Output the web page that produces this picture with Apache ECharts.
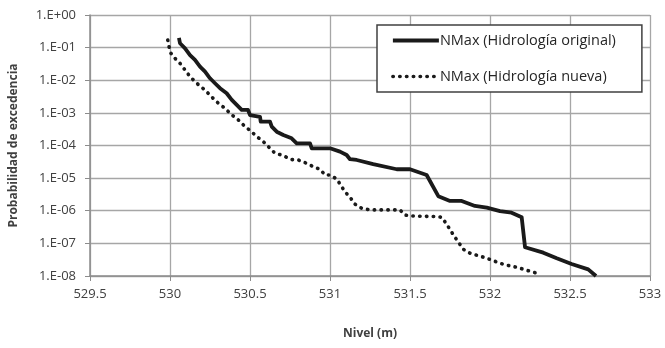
<!DOCTYPE html>
<html>
<head>
<meta charset="utf-8">
<script src="https://cdn.jsdelivr.net/npm/echarts@6/dist/echarts.min.js"></script>
<style>
  html, body { margin: 0; padding: 0; background: #fff; }
  #chart { width: 665px; height: 348px; }
</style>
</head>
<body>
<div id="chart"></div>
<script>
// Nivel (m) vs probabilidad de excedencia
const originalX = [530.056, 530.0625, 530.094, 530.125, 530.156, 530.1875, 530.219, 530.25, 530.281, 530.3125,
  530.354, 530.386, 530.417, 530.448, 530.4875, 530.5, 530.5625, 530.567, 530.625, 530.636,
  530.667, 530.708, 530.76, 530.792, 530.875, 530.886, 531.0, 531.0625, 531.104, 531.125,
  531.167, 531.27, 531.417, 531.5, 531.604, 531.677, 531.75, 531.823, 531.906, 531.98,
  532.0625, 532.135, 532.198, 532.219, 532.333, 532.417, 532.51, 532.614, 532.6625];
const originalP = [2.0e-1, 1.36e-1, 9.5e-2, 5.9e-2, 4.2e-2, 2.6e-2, 1.83e-2, 1.15e-2, 8.1e-3, 5.7e-3,
  4.0e-3, 2.5e-3, 1.75e-3, 1.23e-3, 1.23e-3, 8.6e-4, 7.6e-4, 5.4e-4, 5.4e-4, 3.8e-4,
  2.65e-4, 2.1e-4, 1.66e-4, 1.17e-4, 1.17e-4, 8.2e-5, 8.2e-5, 6.5e-5, 5.1e-5, 3.8e-5,
  3.6e-5, 2.7e-5, 1.87e-5, 1.87e-5, 1.25e-5, 2.8e-6, 2.0e-6, 2.0e-6, 1.4e-6, 1.24e-6,
  9.8e-7, 8.7e-7, 6.3e-7, 7.6e-8, 5.2e-8, 3.5e-8, 2.34e-8, 1.6e-8, 1.0e-8];

const nuevaX = [529.986, 529.994, 530.006, 530.031, 530.0625, 530.094, 530.125, 530.167, 530.219, 530.26,
  530.302, 530.344, 530.386, 530.417, 530.469, 530.51, 530.542, 530.573, 530.625, 530.656,
  530.698, 530.76, 530.802, 530.854, 530.896, 530.9375, 530.969, 531.0, 531.042, 531.094,
  531.125, 531.156, 531.198, 531.25, 531.4375, 531.469, 531.51, 531.667, 531.698, 531.729,
  531.754, 531.781, 531.808, 531.833, 531.875, 531.927, 531.969, 532.021, 532.0625, 532.108,
  532.156, 532.204, 532.25, 532.296];
const nuevaP = [1.7e-1, 1.07e-1, 6.7e-2, 4.7e-2, 3.3e-2, 2.06e-2, 1.29e-2, 8.1e-3, 5.0e-3, 3.1e-3,
  1.97e-3, 1.38e-3, 8.6e-4, 6.8e-4, 3.8e-4, 2.65e-4, 1.86e-4, 1.48e-4, 8.2e-5, 5.8e-5,
  5.1e-5, 3.7e-5, 3.6e-5, 2.85e-5, 2.24e-5, 1.87e-5, 1.25e-5, 1.25e-5, 9.4e-6, 3.8e-6,
  2.6e-6, 1.6e-6, 1.19e-6, 1.06e-6, 1.06e-6, 7.4e-7, 6.9e-7, 6.6e-7, 6.3e-7, 3.9e-7,
  2.45e-7, 1.54e-7, 1.0e-7, 6.6e-8, 5.0e-8, 4.2e-8, 3.65e-8, 2.95e-8, 2.45e-8, 2.14e-8,
  1.9e-8, 1.64e-8, 1.4e-8, 1.21e-8];

const seriesNames = ['NMax (Hidrología original)', 'NMax (Hidrología nueva)'];

const font = 'Open Sans';
const textColor = '#404040';
const gridColor = '#a6a6a6';

function pairs(xs, ys) {
  return xs.map((x, i) => [x, ys[i]]);
}

function sciLabel(v) {
  const e = Math.round(Math.log10(v));
  const s = e < 0 ? '-' : '+';
  const a = Math.abs(e);
  return '1.E' + s + (a < 10 ? '0' + a : a);
}

const chart = echarts.init(document.getElementById('chart'));
chart.setOption({
  animation: false,
  backgroundColor: '#fff',
  textStyle: { fontFamily: font },
  grid: { left: 90, right: 15, top: 15, bottom: 72 },
  legend: {
    orient: 'vertical',
    left: 377,
    top: 25,
    padding: [8, 26, 8, 14],
    itemGap: 21,
    itemWidth: 46,
    itemHeight: 12,
    backgroundColor: '#fff',
    borderColor: '#404040',
    borderWidth: 1.5,
    itemStyle: { opacity: 0 },
    lineStyle: { width: 'inherit' },
    textStyle: { fontFamily: font, fontSize: 14.5, color: '#262626', padding: [0, 0, 0, -4] },
    data: seriesNames
  },
  xAxis: {
    type: 'value',
    min: 529.5,
    max: 533,
    interval: 0.5,
    name: 'Nivel (m)',
    nameLocation: 'middle',
    nameGap: 52,
    nameTextStyle: { fontFamily: font, fontSize: 12, fontWeight: 'bold', color: textColor },
    axisLine: { lineStyle: { color: '#8c8c8c', width: 1.5 } },
    axisTick: { show: true, length: 5, lineStyle: { color: '#8c8c8c' } },
    axisLabel: { fontSize: 13, color: textColor, margin: 12 },
    splitLine: { lineStyle: { color: gridColor, width: 1.3 } }
  },
  yAxis: {
    type: 'log',
    logBase: 10,
    min: 1e-8,
    max: 1,
    interval: 1,
    name: 'Probabilidad de excedencia',
    nameLocation: 'middle',
    nameGap: 70,
    nameTextStyle: { fontFamily: font, fontSize: 12, fontWeight: 'bold', color: textColor },
    axisLine: { show: true, lineStyle: { color: '#8c8c8c', width: 1.5 } },
    axisTick: { show: true, length: 5, lineStyle: { color: '#8c8c8c' } },
    axisLabel: { fontSize: 13, color: textColor, margin: 14, formatter: sciLabel },
    splitLine: { lineStyle: { color: gridColor, width: 1.3 } }
  },
  series: [
    {
      name: seriesNames[0],
      type: 'line',
      symbol: 'none',
      color: '#1a1a1a',
      lineStyle: { width: 3.8, color: '#1a1a1a', join: 'round' },
      data: pairs(originalX, originalP)
    },
    {
      name: seriesNames[1],
      type: 'line',
      symbol: 'none',
      color: '#1a1a1a',
      lineStyle: { width: 3.6, color: '#1a1a1a', type: [0.4, 6.4], cap: 'round' },
      data: pairs(nuevaX, nuevaP)
    }
  ]
});
</script>
</body>
</html>
